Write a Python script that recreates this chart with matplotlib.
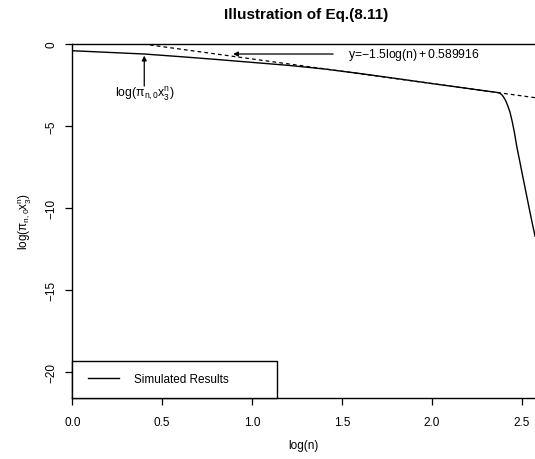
import matplotlib
matplotlib.use("Agg")
import matplotlib.pyplot as plt
from matplotlib.patches import Rectangle

plt.rcParams['font.family'] = ['Liberation Sans', 'DejaVu Sans']
plt.rcParams['mathtext.fontset'] = 'custom'
plt.rcParams['mathtext.rm'] = 'Liberation Sans'
plt.rcParams['mathtext.it'] = 'Liberation Sans'

# Simulated results: log(n) vs log(pi_{n,0} x_3^n)
log_n = [0.0, 0.2, 0.4, 0.6, 0.8, 1.0, 1.2, 1.4, 1.6, 1.8, 2.0, 2.2, 2.3,
         2.35, 2.37, 2.38, 2.39, 2.40, 2.41, 2.42, 2.433, 2.445, 2.458,
         2.47, 2.507, 2.544, 2.5722]
log_val = [-0.41, -0.51, -0.61, -0.77, -0.94, -1.12, -1.30, -1.52, -1.80,
           -2.10, -2.41, -2.71, -2.86, -2.93, -2.97, -3.02, -3.12, -3.27,
           -3.47, -3.74, -4.14, -4.70, -5.40, -6.19, -8.22, -10.23, -11.70]

# Fitted asymptote
slope = -1.5
intercept = 0.589916

xticks = [0.0, 0.5, 1.0, 1.5, 2.0, 2.5]
yticks = [0, -5, -10, -15, -20]

W, H = 535, 460
L, T, B = 72.3, 45.0, 398.7
fig = plt.figure(figsize=(W / 100, H / 100), dpi=100)
ax = fig.add_axes([L / W, (H - B) / H, 1 - L / W, (B - T) / H])
axw, axh = W - L, B - T

ax.plot(log_n, log_val, color='black', lw=1.0, label='Simulated Results')
ax.axline((0, intercept), slope=slope, color='black', lw=0.9,
          linestyle=(0, (3, 2.5)))

ax.set_xlim(0, 2.5722)
ax.set_ylim(-21.54, 0)
ax.set_xticks(xticks)
ax.set_xticklabels([f"{t:.1f}" for t in xticks])
ax.set_yticks(yticks)
ax.set_yticklabels([str(t).replace('-', '\u2212') for t in yticks],
                   rotation=90, va='center')

ax.spines['right'].set_visible(False)
for s in ['left', 'bottom', 'top']:
    ax.spines[s].set_linewidth(1.0)
ax.tick_params(direction='out', length=5, width=0.9, labelsize=8.5)
ax.tick_params(axis='x', pad=8.5)
ax.tick_params(axis='y', pad=5.5)

ax.set_xlabel('log(n)', fontsize=8.5, va='center')
ax.xaxis.set_label_coords(((W + L) / 2 - L) / axw, -(445.7 - B) / axh)
ax.set_ylabel(r'log($\mathregular{\pi_{n,0}x_3^n}$)', fontsize=8.5,
              va='center')
ax.yaxis.set_label_coords(-(L - 25) / axw, 0.5)
fig.text(306 / W, 1 - 15 / H, 'Illustration of Eq.(8.11)',
         ha='center', va='center', fontsize=11, fontweight='bold')

# Annotations
ax.annotate('', xy=(0.894, -0.61), xytext=(1.45, -0.61),
            arrowprops=dict(arrowstyle='-|>', color='black', lw=0.9,
                            mutation_scale=7, shrinkA=0, shrinkB=0))
ax.text(1.533, -0.61, r'y=$\mathregular{-}$1.5log(n)$\,$+$\,$0.589916',
        fontsize=8.8, ha='left', va='center')
ax.annotate('', xy=(0.4, -0.71), xytext=(0.4, -2.56),
            arrowprops=dict(arrowstyle='-|>', color='black', lw=0.9,
                            mutation_scale=7, shrinkA=0, shrinkB=0))
ax.text(0.4, -2.98, r'log($\mathregular{\pi_{n,0}x_3^n}$)', fontsize=8.8,
        ha='center', va='center')

# Legend box (R-style)
ax.add_patch(Rectangle((0, 0), (277 - L) / axw, (B - 362) / axh,
                       transform=ax.transAxes, facecolor='white',
                       edgecolor='black', lw=1.0, zorder=3, clip_on=False))
leg = ax.legend(loc='center left',
                bbox_to_anchor=((88 - L) / axw, (B - 380.3) / axh),
                borderaxespad=0, borderpad=0, frameon=False, fontsize=8.5,
                handlelength=2.63, handletextpad=1.27)
leg.set_zorder(5)

fig.savefig('out.png', dpi=100)
